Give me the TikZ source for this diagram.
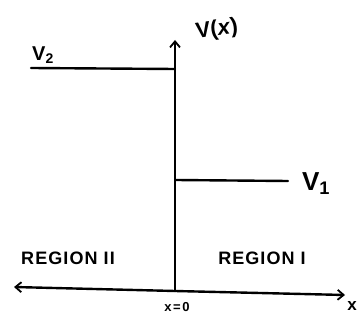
\documentclass[tikz,border=0pt]{standalone}
\usepackage{fontspec}
\setmainfont{Liberation Sans}
\usetikzlibrary{arrows.meta}
\begin{document}
\begin{tikzpicture}[x=1pt,y=-1pt,
  ln/.style={line width=2.4pt,line cap=round},
  axis/.style={ln,-{Straight Barb[length=6pt,width=10pt,line width=1.8pt]}},
  lbl/.style={font=\fontsize{22}{24}\selectfont\bfseries},
  reg/.style={font=\fontsize{18}{20}\selectfont\bfseries\addfontfeature{LetterSpace=6}},
  small/.style={font=\fontsize{13}{15}\selectfont\bfseries\addfontfeature{LetterSpace=12}}]
\useasboundingbox (0,0) rectangle (358,320);
\coordinate (O) at (175,291);
\coordinate (Ytop) at (175,40);
\coordinate (Xl) at (14,287);
\coordinate (Xr) at (345,295);
\coordinate (V2a) at (31,68);
\coordinate (V2b) at (175,69);
\coordinate (V1a) at (176,180);
\coordinate (V1b) at (288,181);
\draw[axis] (O) -- (Ytop);
\draw[axis] (O) -- (Xl);
\draw[axis] (O) -- (Xr);
\draw[ln] (V2a) -- (V2b);
\draw[ln] (V1a) -- (V1b);
\node[lbl,rotate=8] (lv) at (217,30) {V(\textit{x})};
\node[font=\fontsize{20}{22}\selectfont\bfseries] (lv2) at (43,55) {V$_{\mathbf 2}$};
\node[font=\fontsize{26}{28}\selectfont\bfseries] (lv1) at (316,184) {V$_{\mathbf 1}$};
\node[reg] (r2) at (68,258) {REGION II};
\node[reg] (r1) at (262,258) {REGION I};
\node[small] (x0) at (177,307) {x=0};
\node[font=\fontsize{17}{19}\selectfont\bfseries] (xl) at (352,306) {x};
\end{tikzpicture}
\end{document}
